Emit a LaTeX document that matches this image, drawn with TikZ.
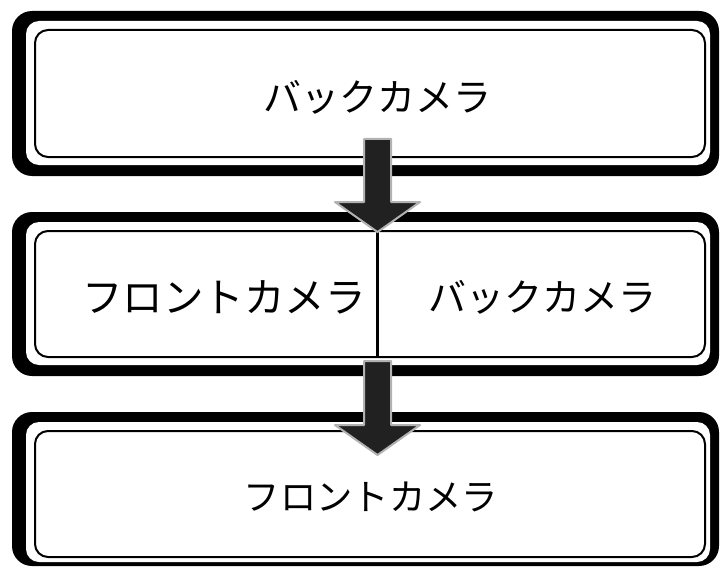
\documentclass[tikz,border=0pt]{standalone}
\usepackage{fontspec}
\newfontfamily\jp{Noto Sans CJK JP}
\begin{document}
\begin{tikzpicture}[x=1pt,y=-1pt,
  outerbox/.style={fill=black, rounded corners=20pt},
  innerwhite/.style={fill=white, rounded corners=13pt},
  innerline/.style={draw=black, line width=2pt, rounded corners=13pt},
  lbl/.style={inner sep=0pt, font=\jp\fontsize{38}{41}\selectfont},
  blockarrow/.style={fill=black!87, draw=black!30, line width=2pt, line join=round},
  divider/.style={draw=black, line width=3pt}]
\useasboundingbox (0,0) rectangle (720,567);
% box 1
\fill[outerbox] (12,11) rectangle (719,176);
\fill[innerwhite] (26,21) rectangle (710,165);
\draw[innerline] (35,30) rectangle (705,157);
% box 2
\fill[outerbox] (12,212) rectangle (719,376);
\fill[innerwhite] (26,222) rectangle (710,365);
\draw[innerline] (35,231) rectangle (705,357);
% box 3
\fill[outerbox] (12,412) rectangle (719,566);
\fill[innerwhite] (26,422) rectangle (710,562);
\draw[innerline] (35,431) rectangle (705,557);
% texts
\node[lbl] (t1) at (377,97) {バックカメラ};
\node[lbl, font=\jp\fontsize{40.5}{43}\selectfont] (t2) at (224,297) {フロントカメラ};
\node[lbl] (t3) at (542,297) {バックカメラ};
\node[lbl, font=\jp\fontsize{36.3}{40}\selectfont] (t4) at (371,497) {フロントカメラ};
% divider
\coordinate (dtop) at (377,232);
\coordinate (dbot) at (377,357);
\draw[divider] (dtop) -- (dbot);
% arrows
\coordinate (a1) at (377.5,139);
\coordinate (a2) at (377.5,361);
\draw[blockarrow] (a1) ++(-13.5,0) -- ++(0,63) -- ++(-29,0) -- ++(42.5,30) -- ++(42.5,-30) -- ++(-29,0) -- ++(0,-63) -- cycle;
\draw[blockarrow] (a2) ++(-13.5,0) -- ++(0,64) -- ++(-29,0) -- ++(42.5,30) -- ++(42.5,-30) -- ++(-29,0) -- ++(0,-64) -- cycle;
\end{tikzpicture}
\end{document}
